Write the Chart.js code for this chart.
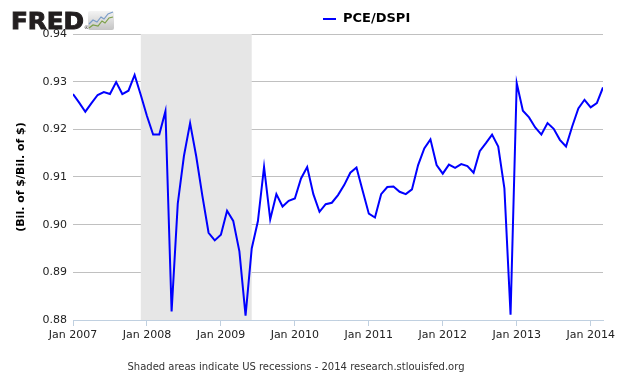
<!DOCTYPE html>
<html>
<head>
<meta charset="utf-8">
<script src="https://cdn.jsdelivr.net/npm/chart.js@4"></script>
<style>
  body { margin: 0; background: #fff; }
  #wrap { width: 630px; height: 378px; }
</style>
</head>
<body>
<div id="wrap"><canvas id="myChart" width="630" height="378"></canvas></div>
<script>
const ctx = document.getElementById('myChart');

// monthly, Jan 2007 .. Mar 2014
const startYear = 2007;
const pceDspi = [
  0.9274, 0.9256, 0.9237, 0.9255, 0.9272, 0.9278, 0.9274, 0.9299, 0.9274, 0.9281, 0.9314, 0.9272,
  0.9228, 0.9189, 0.9189, 0.9238, 0.8818, 0.9044, 0.9144, 0.9213, 0.9143, 0.9060, 0.8983, 0.8967,
  0.8979, 0.9029, 0.9008, 0.8944, 0.8809, 0.8950, 0.9007, 0.9121, 0.9011, 0.9064, 0.9038, 0.9050,
  0.9055, 0.9097, 0.9121, 0.9064, 0.9027, 0.9043, 0.9046, 0.9062, 0.9083, 0.9109, 0.9120, 0.9071,
  0.9023, 0.9015, 0.9064, 0.9079, 0.9080, 0.9069, 0.9064, 0.9074, 0.9125, 0.9160, 0.9179, 0.9125,
  0.9107, 0.9126, 0.9119, 0.9127, 0.9123, 0.9109, 0.9154, 0.9171, 0.9189, 0.9164, 0.9076, 0.8811,
  0.9297, 0.9239, 0.9225, 0.9204, 0.9189, 0.9213, 0.9201, 0.9178, 0.9164, 0.9206, 0.9244, 0.9262,
  0.9246, 0.9255, 0.9288
];
const yearTicks = ['Jan 2007', 'Jan 2008', 'Jan 2009', 'Jan 2010', 'Jan 2011', 'Jan 2012', 'Jan 2013', 'Jan 2014'];
const yTicks = [0.88, 0.89, 0.90, 0.91, 0.92, 0.93, 0.94];
// recession Dec 2007 - Jun 2009, as month index from Jan 2007
const recession = [11, 29];

const points = pceDspi.map((v, i) => ({ x: i, y: v }));

const fredDecor = {
  id: 'fredDecor',
  beforeDatasetsDraw(chart) {
    const c = chart.ctx;
    const xs = chart.scales.x;
    const a = chart.chartArea;
    c.save();
    c.fillStyle = '#e6e6e6';
    const x1 = xs.getPixelForValue(recession[0]);
    const x2 = xs.getPixelForValue(recession[1]);
    c.fillRect(x1, a.top, x2 - x1, a.bottom - a.top);
    c.restore();
  },
  afterDraw(chart) {
    const c = chart.ctx;
    c.save();

    // logo
    c.fillStyle = '#231f20';
    c.strokeStyle = '#231f20';
    c.lineWidth = 1;
    c.font = 'bold 23px "DejaVu Sans"';
    c.textBaseline = 'alphabetic';
    c.textAlign = 'left';
    const w = c.measureText('FRED').width;
    c.save();
    c.translate(11, 28.5);
    c.scale(73 / w, 1);
    c.fillText('FRED', 0, 0);
    c.strokeText('FRED', 0, 0);
    c.restore();
    c.font = '5px "DejaVu Sans"';
    c.fillText('®', 84, 29);

    const g = c.createLinearGradient(0, 11, 0, 30);
    g.addColorStop(0, '#f4f4f4');
    g.addColorStop(1, '#c4c4c4');
    c.fillStyle = g;
    c.beginPath();
    c.roundRect(88, 11, 26, 19, 2);
    c.fill();
    c.lineWidth = 1.2;
    c.strokeStyle = '#7a9cc8';
    c.beginPath();
    c.moveTo(89, 24); c.lineTo(93, 20); c.lineTo(97, 22); c.lineTo(101, 17); c.lineTo(104, 19); c.lineTo(108, 14); c.lineTo(113, 12);
    c.stroke();
    c.strokeStyle = '#7ca048';
    c.beginPath();
    c.moveTo(89, 28); c.lineTo(93, 25); c.lineTo(98, 26); c.lineTo(102, 21); c.lineTo(105, 23); c.lineTo(109, 18); c.lineTo(113, 17);
    c.stroke();

    // legend
    c.strokeStyle = '#0000ff';
    c.lineWidth = 2;
    c.beginPath();
    c.moveTo(323, 19); c.lineTo(336, 19);
    c.stroke();
    c.fillStyle = '#000';
    c.font = 'bold 13px "DejaVu Sans"';
    c.textBaseline = 'middle';
    c.fillText('PCE/DSPI', 343, 19);

    // footer
    c.fillStyle = '#333';
    c.font = '10px "DejaVu Sans"';
    c.textAlign = 'center';
    c.fillText('Shaded areas indicate US recessions - 2014 research.stlouisfed.org', 296, 367);
    c.restore();
  }
};

function draw()
{
  new Chart(ctx, {
    type: 'line',
    data: {
      datasets: [{
        label: 'PCE/DSPI',
        data: points,
        borderColor: '#0000ff',
        borderWidth: 2,
        pointRadius: 0,
        tension: 0,
        fill: false
      }]
    },
    options: {
      responsive: false,
      animation: false,
      layout: { padding: { top: 34, right: 27, left: 0, bottom: 0 } },
      plugins: {
        legend: { display: false },
        tooltip: { enabled: false }
      },
      scales: {
        x: {
          type: 'linear',
          min: 0,
          max: pceDspi.length - 1,
          afterBuildTicks: s => { s.ticks = yearTicks.map((t, k) => ({ value: k * 12 })); },
          afterFit: s => { s.height = 58; },
          ticks: {
            autoSkip: false,
            maxRotation: 0,
            padding: 3,
            color: '#222',
            font: { family: 'DejaVu Sans', size: 11 },
            callback: v => yearTicks[v / 12]
          },
          grid: { drawOnChartArea: false, drawTicks: true, tickLength: 6, color: '#c0d0e0' },
          border: { color: '#c0d0e0' }
        },
        y: {
          min: 0.88,
          max: 0.94,
          afterBuildTicks: s => { s.ticks = yTicks.map(v => ({ value: v })); },
          afterFit: s => { s.width = 73; },
          ticks: {
            padding: 6,
            color: '#222',
            font: { family: 'DejaVu Sans', size: 11 },
            callback: v => v.toFixed(2)
          },
          grid: { drawTicks: false, color: '#c0c0c0' },
          border: { display: false },
          title: {
            display: true,
            text: '(Bil. of $/Bil. of $)',
            color: '#000',
            font: { family: 'DejaVu Sans', size: 11, weight: 'bold' },
            padding: { top: 15, bottom: 0 }
          }
        }
      }
    },
    plugins: [fredDecor]
  });
}

draw();
</script>
</body>
</html>
